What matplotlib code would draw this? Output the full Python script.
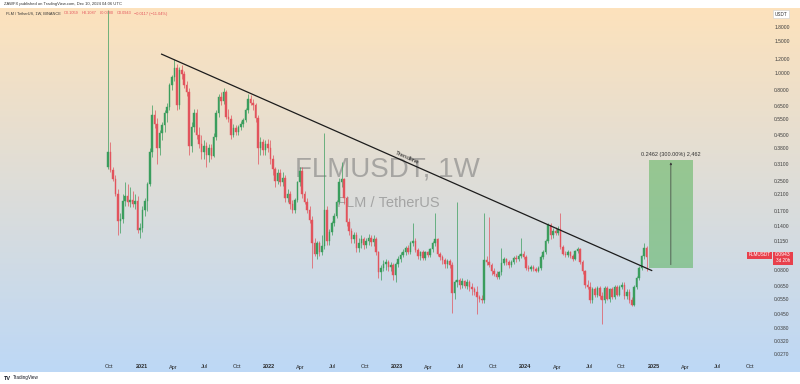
import numpy as np
import matplotlib.pyplot as plt
import matplotlib.transforms as mtransforms
from matplotlib.patches import Rectangle

plt.rcParams['font.family'] = ['Liberation Sans', 'DejaVu Sans']

# weekly FLMUSDT candles, bar 0 = week of 2020-09-28, bar 219 = week of 2024-12-09
opens = [
    0.300, 0.362, 0.286, 0.257, 0.212, 0.150, 0.153, 0.194, 0.205, 0.190,
    0.196, 0.186, 0.194, 0.133, 0.136, 0.171, 0.194, 0.240, 0.362, 0.580,
    0.520, 0.380, 0.460, 0.510, 0.600, 0.645, 0.850, 0.945, 1.065, 0.660,
    1.030, 0.980, 0.860, 0.780, 0.390, 0.500, 0.600, 0.450, 0.400, 0.360,
    0.390, 0.350, 0.380, 0.345, 0.440, 0.600, 0.730, 0.700, 0.780, 0.570,
    0.555, 0.450, 0.490, 0.470, 0.500, 0.520, 0.545, 0.620, 0.710, 0.680,
    0.660, 0.560, 0.380, 0.410, 0.370, 0.400, 0.380, 0.330, 0.290, 0.250,
    0.275, 0.245, 0.260, 0.200, 0.210, 0.185, 0.172, 0.195, 0.245, 0.285,
    0.210, 0.190, 0.172, 0.152, 0.112, 0.098, 0.112, 0.100, 0.108, 0.171,
    0.115, 0.130, 0.145, 0.160, 0.190, 0.245, 0.255, 0.200, 0.148, 0.132,
    0.118, 0.125, 0.106, 0.113, 0.118, 0.110, 0.116, 0.120, 0.114, 0.118,
    0.100, 0.077, 0.082, 0.086, 0.088, 0.083, 0.085, 0.075, 0.086, 0.092,
    0.097, 0.100, 0.105, 0.100, 0.112, 0.116, 0.103, 0.095, 0.100, 0.093,
    0.100, 0.097, 0.104, 0.112, 0.118, 0.098, 0.094, 0.090, 0.086, 0.089,
    0.085, 0.059, 0.068, 0.070, 0.066, 0.069, 0.065, 0.068, 0.064, 0.062,
    0.060, 0.056, 0.055, 0.054, 0.090, 0.088, 0.085, 0.078, 0.076, 0.073,
    0.077, 0.087, 0.091, 0.088, 0.085, 0.088, 0.093, 0.091, 0.095, 0.098,
    0.094, 0.082, 0.081, 0.083, 0.081, 0.079, 0.082, 0.094, 0.100, 0.115,
    0.142, 0.125, 0.132, 0.128, 0.135, 0.107, 0.098, 0.096, 0.100, 0.095,
    0.091, 0.101, 0.104, 0.088, 0.078, 0.066, 0.064, 0.054, 0.062, 0.058,
    0.063, 0.057, 0.054, 0.063, 0.055, 0.062, 0.056, 0.064, 0.058, 0.064,
    0.066, 0.057, 0.060, 0.054, 0.051, 0.064, 0.072, 0.082, 0.095, 0.106,
]
highs = [
    2.250, 0.410, 0.300, 0.270, 0.225, 0.165, 0.210, 0.245, 0.240, 0.230,
    0.220, 0.210, 0.205, 0.145, 0.180, 0.200, 0.245, 0.380, 0.660, 0.620,
    0.560, 0.480, 0.530, 0.620, 0.680, 0.880, 0.970, 1.200, 1.120, 1.080,
    1.100, 1.020, 0.900, 0.820, 0.530, 0.630, 0.630, 0.500, 0.450, 0.420,
    0.410, 0.400, 0.400, 0.460, 0.620, 0.760, 0.780, 0.820, 0.800, 0.630,
    0.580, 0.520, 0.510, 0.510, 0.540, 0.560, 0.640, 0.760, 0.750, 0.710,
    0.680, 0.580, 0.440, 0.430, 0.420, 0.430, 0.420, 0.350, 0.300, 0.290,
    0.290, 0.280, 0.270, 0.225, 0.220, 0.195, 0.200, 0.250, 0.300, 0.300,
    0.220, 0.200, 0.180, 0.160, 0.120, 0.115, 0.115, 0.125, 0.460, 0.180,
    0.135, 0.150, 0.165, 0.195, 0.260, 0.317, 0.260, 0.205, 0.155, 0.137,
    0.130, 0.130, 0.120, 0.125, 0.122, 0.120, 0.126, 0.125, 0.124, 0.121,
    0.102, 0.085, 0.090, 0.092, 0.090, 0.088, 0.087, 0.088, 0.095, 0.100,
    0.104, 0.108, 0.110, 0.115, 0.145, 0.120, 0.106, 0.102, 0.103, 0.102,
    0.102, 0.106, 0.115, 0.165, 0.120, 0.100, 0.097, 0.093, 0.092, 0.091,
    0.088, 0.070, 0.190, 0.072, 0.072, 0.070, 0.071, 0.070, 0.067, 0.064,
    0.065, 0.058, 0.058, 0.165, 0.095, 0.157, 0.087, 0.082, 0.079, 0.079,
    0.106, 0.094, 0.093, 0.090, 0.090, 0.095, 0.096, 0.098, 0.120, 0.101,
    0.096, 0.085, 0.085, 0.085, 0.083, 0.084, 0.096, 0.103, 0.118, 0.146,
    0.145, 0.136, 0.138, 0.140, 0.165, 0.110, 0.101, 0.103, 0.102, 0.098,
    0.103, 0.107, 0.106, 0.090, 0.080, 0.070, 0.068, 0.064, 0.064, 0.065,
    0.065, 0.060, 0.065, 0.065, 0.063, 0.064, 0.066, 0.066, 0.066, 0.068,
    0.068, 0.062, 0.062, 0.056, 0.066, 0.074, 0.084, 0.097, 0.112, 0.1087,
]
lows = [
    0.290, 0.280, 0.250, 0.205, 0.125, 0.128, 0.145, 0.180, 0.180, 0.178,
    0.178, 0.175, 0.128, 0.120, 0.130, 0.160, 0.170, 0.235, 0.340, 0.490,
    0.310, 0.350, 0.420, 0.470, 0.530, 0.620, 0.800, 0.900, 0.620, 0.630,
    0.920, 0.820, 0.740, 0.350, 0.360, 0.470, 0.430, 0.380, 0.330, 0.330,
    0.300, 0.320, 0.330, 0.340, 0.420, 0.570, 0.660, 0.670, 0.550, 0.530,
    0.430, 0.440, 0.450, 0.450, 0.480, 0.500, 0.530, 0.600, 0.660, 0.620,
    0.530, 0.310, 0.350, 0.350, 0.350, 0.360, 0.310, 0.270, 0.230, 0.240,
    0.235, 0.235, 0.190, 0.190, 0.175, 0.165, 0.165, 0.190, 0.235, 0.200,
    0.185, 0.165, 0.145, 0.082, 0.095, 0.092, 0.095, 0.097, 0.104, 0.110,
    0.110, 0.125, 0.140, 0.155, 0.185, 0.230, 0.185, 0.140, 0.125, 0.112,
    0.112, 0.100, 0.100, 0.106, 0.104, 0.105, 0.110, 0.108, 0.108, 0.096,
    0.072, 0.070, 0.078, 0.080, 0.079, 0.078, 0.070, 0.068, 0.083, 0.088,
    0.094, 0.097, 0.098, 0.098, 0.108, 0.100, 0.092, 0.090, 0.090, 0.090,
    0.094, 0.094, 0.100, 0.108, 0.095, 0.090, 0.086, 0.082, 0.082, 0.082,
    0.046, 0.055, 0.064, 0.062, 0.063, 0.063, 0.062, 0.061, 0.058, 0.058,
    0.045, 0.053, 0.052, 0.052, 0.085, 0.083, 0.075, 0.074, 0.071, 0.071,
    0.075, 0.085, 0.085, 0.082, 0.083, 0.086, 0.088, 0.089, 0.093, 0.092,
    0.080, 0.079, 0.079, 0.079, 0.077, 0.077, 0.080, 0.092, 0.098, 0.113,
    0.118, 0.120, 0.124, 0.125, 0.104, 0.096, 0.094, 0.094, 0.093, 0.089,
    0.090, 0.099, 0.086, 0.076, 0.063, 0.062, 0.052, 0.052, 0.056, 0.056,
    0.055, 0.040, 0.052, 0.054, 0.053, 0.055, 0.055, 0.057, 0.057, 0.062,
    0.055, 0.055, 0.052, 0.050, 0.050, 0.062, 0.070, 0.080, 0.092, 0.078,
]
closes = [
    0.362, 0.286, 0.257, 0.212, 0.150, 0.153, 0.194, 0.205, 0.190, 0.196,
    0.186, 0.194, 0.133, 0.136, 0.171, 0.194, 0.240, 0.362, 0.580, 0.520,
    0.380, 0.460, 0.510, 0.600, 0.645, 0.850, 0.945, 1.065, 0.660, 1.030,
    0.980, 0.860, 0.780, 0.390, 0.500, 0.600, 0.450, 0.400, 0.360, 0.390,
    0.350, 0.380, 0.345, 0.440, 0.600, 0.730, 0.700, 0.780, 0.570, 0.555,
    0.450, 0.490, 0.470, 0.500, 0.520, 0.545, 0.620, 0.710, 0.680, 0.660,
    0.560, 0.380, 0.410, 0.370, 0.400, 0.380, 0.330, 0.290, 0.250, 0.275,
    0.245, 0.260, 0.200, 0.210, 0.185, 0.172, 0.195, 0.245, 0.285, 0.210,
    0.190, 0.172, 0.152, 0.112, 0.098, 0.112, 0.100, 0.108, 0.171, 0.115,
    0.130, 0.145, 0.160, 0.190, 0.245, 0.255, 0.200, 0.148, 0.132, 0.118,
    0.125, 0.106, 0.113, 0.118, 0.110, 0.116, 0.120, 0.114, 0.118, 0.100,
    0.077, 0.082, 0.086, 0.088, 0.083, 0.085, 0.075, 0.086, 0.092, 0.097,
    0.100, 0.105, 0.100, 0.112, 0.116, 0.103, 0.095, 0.100, 0.093, 0.100,
    0.097, 0.104, 0.112, 0.118, 0.098, 0.094, 0.090, 0.086, 0.089, 0.085,
    0.059, 0.068, 0.070, 0.066, 0.069, 0.065, 0.068, 0.064, 0.062, 0.060,
    0.056, 0.055, 0.054, 0.090, 0.088, 0.085, 0.078, 0.076, 0.073, 0.077,
    0.087, 0.091, 0.088, 0.085, 0.088, 0.093, 0.091, 0.095, 0.098, 0.094,
    0.082, 0.081, 0.083, 0.081, 0.079, 0.082, 0.094, 0.100, 0.115, 0.142,
    0.125, 0.132, 0.128, 0.135, 0.107, 0.098, 0.096, 0.100, 0.095, 0.091,
    0.101, 0.104, 0.088, 0.078, 0.066, 0.064, 0.054, 0.062, 0.058, 0.063,
    0.057, 0.054, 0.063, 0.055, 0.062, 0.056, 0.064, 0.058, 0.064, 0.066,
    0.057, 0.060, 0.054, 0.051, 0.064, 0.072, 0.082, 0.095, 0.106, 0.0943,
]

price_ticks = [1.8, 1.5, 1.2, 1.0, 0.8, 0.65, 0.55, 0.45, 0.38, 0.31, 0.25,
               0.21, 0.17, 0.14, 0.115, 0.08, 0.065, 0.055, 0.045, 0.038,
               0.032, 0.027]

# time axis labels, position in weeks since 2020-09-28
time_labels = ['Oct', '2021', 'Apr', 'Jul', 'Oct', '2022', 'Apr', 'Jul', 'Oct',
               '2023', 'Apr', 'Jul', 'Oct', '2024', 'Apr', 'Jul', 'Oct',
               '2025', 'Apr', 'Jul', 'Oct']
time_pos = [0.4, 13.6, 26.4, 39.4, 52.4, 65.6, 78.4, 91.4, 104.4,
            117.6, 130.4, 143.4, 156.4, 169.6, 182.6, 195.6, 208.6,
            221.9, 234.7, 247.7, 260.9]

# drawings
trend_x = [21.8, 221.1]
trend_y = [1.27, 0.079]
box_x = [220.0, 237.8]
box_y = [0.0821, 0.3283]

up_color = '#3a9d5d'
down_color = '#e2535c'

W, H = 800, 384
fig = plt.figure(figsize=(8, 3.84), dpi=100)
fig.patch.set_facecolor('white')


def fy(px):
    return 1 - px / H


# gradient background of the chart pane
bg = fig.add_axes([0, fy(372), 1, (372 - 8) / H])
top = np.array([253, 226, 188]) / 255
bot = np.array([189, 216, 246]) / 255
t = np.linspace(0, 1, 256)[:, None]
grad = top * (1 - t) + bot * t
bg.imshow(grad[:, None, :], aspect='auto', extent=[0, 1, 0, 1])
bg.axis('off')

ax = fig.add_axes([0, fy(360), 745 / W, (360 - 8) / H])
ax.patch.set_alpha(0)
ax.set_yscale('log')
ax.set_xlim(-43.92, 259.05)
ax.set_ylim(0.02504, 2.297)
for s in ax.spines.values():
    s.set_visible(False)
ax.set_xticks([])
ax.yaxis.tick_right()
ax.set_yticks(price_ticks)
ax.set_yticklabels([f'{p:.4f}' for p in price_ticks])
ax.minorticks_off()
ax.tick_params(axis='y', length=0, pad=21, labelsize=3.6, labelcolor='#3d3d3d')

# candles
x = np.arange(len(closes))
o = np.array(opens)
c = np.array(closes)
hi = np.array(highs)
lo = np.array(lows)
cols = np.where(c >= o, up_color, down_color)
ax.vlines(x, lo, hi, colors=cols, linewidth=0.5, zorder=2)
ax.bar(x, np.abs(c - o), bottom=np.minimum(o, c), width=0.62, color=cols,
       edgecolor=cols, linewidth=0.3, zorder=3)

# watermark
ax.text(387 / W, fy(170), 'FLMUSDT, 1W', transform=fig.transFigure,
        ha='center', va='center', fontsize=20, color='#808080', alpha=0.6, zorder=0)
ax.text(388 / W, fy(203), 'FLM / TetherUS', transform=fig.transFigure,
        ha='center', va='center', fontsize=10.5, color='#808080', alpha=0.6, zorder=0)

# trendline
ax.plot(trend_x, trend_y, color='#1c1c1c', lw=0.9, zorder=4)
p1 = ax.transData.transform((trend_x[0], trend_y[0]))
p2 = ax.transData.transform((trend_x[1], trend_y[1]))
ang = np.degrees(np.arctan2(p2[1] - p1[1], p2[0] - p1[0]))
tx = 121.0
frac = (tx - trend_x[0]) / (trend_x[1] - trend_x[0])
ty = np.exp(np.log(trend_y[0]) + frac * (np.log(trend_y[1]) - np.log(trend_y[0])))
nrm = np.radians(ang + 90)
off = mtransforms.offset_copy(ax.transData, fig=fig, x=1.2 * np.cos(nrm),
                              y=1.2 * np.sin(nrm), units='points')
ax.text(tx, ty, 'Trendline', transform=off, rotation=ang, rotation_mode='anchor',
        ha='center', va='bottom', fontsize=4.5, color='#222222', zorder=5)

# long position box
ax.add_patch(Rectangle((box_x[0], box_y[0]), box_x[1] - box_x[0], box_y[1] - box_y[0],
                       facecolor=(0.30, 0.69, 0.31, 0.5), edgecolor='none', zorder=1))
mid = (box_x[0] + box_x[1]) / 2
ax.annotate('', xy=(mid, box_y[1]), xytext=(mid, box_y[0]),
            arrowprops=dict(arrowstyle='-|>', color='#3a3a3a', lw=0.5, mutation_scale=3),
            zorder=5)
ax.text(mid, box_y[1] * 1.03, '0.2462 (300.00%) 2,462', ha='center', va='bottom',
        fontsize=4, color='#333333', zorder=5)

# time axis
tr = mtransforms.blended_transform_factory(ax.transData, fig.transFigure)
for lab, pos in zip(time_labels, time_pos):
    bold = lab.isdigit()
    ax.text(pos, fy(367), lab, transform=tr, ha='center', va='center', fontsize=4,
            color='#2a2a2a', fontweight='bold' if bold else 'normal', clip_on=False)

# price axis extras
fig.text(781 / W, fy(14), 'USDT', ha='center', va='center', fontsize=3.3, color='#333333',
         bbox=dict(boxstyle='square,pad=0.4', facecolor='white', edgecolor='#d0d0d0', lw=0.4))
fig.patches.append(Rectangle((747 / W, fy(258.5)), 25 / W, 6.5 / H, transform=fig.transFigure,
                             facecolor='#e8404c', edgecolor='none'))
fig.patches.append(Rectangle((773 / W, fy(264.5)), 20 / W, 13 / H, transform=fig.transFigure,
                             facecolor='#e8404c', edgecolor='none'))
fig.text(759.5 / W, fy(255), 'FLMUSDT', ha='center', va='center', fontsize=3.3, color='white')
fig.text(783 / W, fy(254.5), '0.0943', ha='center', va='center', fontsize=3.6, color='white')
fig.text(783 / W, fy(261), '3d 20h', ha='center', va='center', fontsize=3.3, color='white')

# header
fig.text(4 / W, fy(4), 'ZAWFX published on TradingView.com, Dec 10, 2024 04:06 UTC',
         ha='left', va='center', fontsize=3, color='#333333')
renderer = fig.canvas.get_renderer()
hdr = [('FLM / TetherUS, 1W, BINANCE', '#333333'), ('O0.1059', '#e2535c'),
       ('H0.1087', '#e2535c'), ('L0.0780', '#e2535c'), ('C0.0943', '#e2535c'),
       ('\u22120.0117 (\u221211.04%)', '#e2535c')]
hx = 6
for s, col in hdr:
    txt = fig.text(hx / W, fy(13.5), s, ha='left', va='center', fontsize=2.8, color=col)
    hx = txt.get_window_extent(renderer).x1 + 3

# footer logo
fig.text(4 / W, fy(378), 'TV', ha='left', va='center', fontsize=4, fontweight='bold',
         color='#131722')
fig.text(13 / W, fy(378), 'TradingView', ha='left', va='center', fontsize=3.3,
         color='#131722')

fig.savefig('out.png', dpi=100)
